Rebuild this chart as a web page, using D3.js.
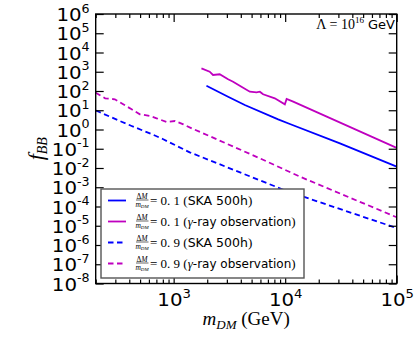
<!DOCTYPE html>
<html><head><meta charset="utf-8">
<script src="https://cdn.jsdelivr.net/npm/d3@7"></script>
<style>html,body{margin:0;padding:0;background:#fff;}svg{display:block;}</style>
</head><body><svg id="c" width="414" height="338"></svg>
<script>
// ---- data ----
const skaSolidM = [1968, 3076, 4345, 8650, 11015, 30974, 100000];
const skaSolidF = [188, 50.6, 18.75, 3.39, 1.93, 0.192, 0.0117];

const gamSolidM = [1775, 2104, 2254, 2588, 3076, 3412, 4055, 4819, 5534, 5929, 6339, 8072, 9931, 10304, 11803, 100000];
const gamSolidF = [1510, 1007, 678, 738, 406, 304, 167, 92, 85.5, 92, 67.5, 41.8, 20.4, 38.4, 27.8, 0.11];

const skaDashM = [200, 218, 277, 341, 420, 515, 634, 807, 1393, 9290, 14521, 100000];
const skaDashF = [9.7, 7.83, 4.31, 2.54, 1.52, 0.942, 0.583, 0.310, 0.0653, 8.1e-4, 3.24e-4, 7.6e-6];

const gamDashM = [200, 243, 297, 353, 420, 498, 612, 703, 865, 1028, 1222, 1452, 1786, 5929, 13552, 100000];
const gamDashF = [81, 41.8, 37.1, 20.4, 11.2, 6.17, 5.02, 3.82, 2.45, 2.77, 1.86, 1.15, 0.682, 0.0319, 0.00355, 2.75e-5];

const xMajorExp = [3, 4, 5];
const yExp = d3.range(-8, 7);
const legendLabels = [
  {ratio: "0.1", obs: "SKA"},
  {ratio: "0.1", obs: "gamma"},
  {ratio: "0.9", obs: "SKA"},
  {ratio: "0.9", obs: "gamma"}
];

// ---- layout ----
const svg = d3.select("#c");
const L = 95.7, R = 396.7, T = 14, B = 283.5;
const x = d3.scaleLog().domain([200, 1e5]).range([L, R]);
const y = d3.scaleLog().domain([1e-8, 1e6]).range([B, T]);
const BLUE = "#0000ff", MAG = "#bf00bf";
const series = [
  {m: skaSolidM, f: skaSolidF, c: BLUE, dash: null},
  {m: gamSolidM, f: gamSolidF, c: MAG, dash: null},
  {m: skaDashM, f: skaDashF, c: BLUE, dash: "5.5,3.5"},
  {m: gamDashM, f: gamDashF, c: MAG, dash: "5.5,3.5"}
];

const line = d3.line().x(d => x(d[0])).y(d => y(d[1]));
svg.append("clipPath").attr("id", "clp").append("rect")
  .attr("x", L).attr("y", T).attr("width", R - L).attr("height", B - T);
const plot = svg.append("g").attr("clip-path", "url(#clp)");
series.forEach(s => {
  plot.append("path").datum(s.m.map((m, i) => [m, s.f[i]]))
    .attr("d", line).attr("fill", "none").attr("stroke", s.c)
    .attr("stroke-width", 1.8).attr("stroke-dasharray", s.dash);
});

// ---- axes ----
const xMajor = xMajorExp.map(e => Math.pow(10, e));
const xMinor = [];
[2, 3, 4].forEach(e => { for (let k = 2; k <= 9; k++) { const v = k * Math.pow(10, e); if (v >= 200 && v <= 1e5) xMinor.push(v); } });
const yMajor = yExp.map(e => Math.pow(10, e));

function clean(g) { g.select(".domain").remove(); g.selectAll("line").attr("stroke", "#000").attr("stroke-width", 1.2); }

const gxB = svg.append("g").attr("transform", `translate(0,${B})`)
  .call(d3.axisBottom(x).tickValues(xMajor).tickSize(-8).tickPadding(0).tickFormat(""));
clean(gxB);
gxB.selectAll(".tick").each(function(d) {
  const e = Math.round(Math.log10(d));
  const t = d3.select(this).append("text").attr("text-anchor", "middle").attr("y", 22.5)
    .attr("fill", "#000").attr("font-family", "DejaVu Sans").attr("font-size", 18)
    .attr("transform", "scale(1.1,1)");
  t.append("tspan").text("10");
  t.append("tspan").attr("font-size", 12).attr("dy", -8).text(e);
});
svg.append("g").attr("transform", `translate(0,${B})`)
  .call(d3.axisBottom(x).tickValues(xMinor).tickSize(-4).tickFormat("")).call(clean);
svg.append("g").attr("transform", `translate(0,${T})`)
  .call(d3.axisTop(x).tickValues(xMajor).tickSize(-8).tickFormat("")).call(clean);
svg.append("g").attr("transform", `translate(0,${T})`)
  .call(d3.axisTop(x).tickValues(xMinor).tickSize(-4).tickFormat("")).call(clean);

const gyL = svg.append("g").attr("transform", `translate(${L},0)`)
  .call(d3.axisLeft(y).tickValues(yMajor).tickSize(-8).tickFormat(""));
clean(gyL);
gyL.selectAll(".tick").each(function(d) {
  const e = Math.round(Math.log10(d));
  const t = d3.select(this).append("text").attr("text-anchor", "end").attr("x", -5.5).attr("y", 6.5)
    .attr("fill", "#000").attr("font-family", "DejaVu Sans").attr("font-size", 18)
    .attr("transform", "scale(1.1,1)");
  t.append("tspan").text("10");
  t.append("tspan").attr("font-size", 11.5).attr("dy", -8.5).text(e < 0 ? "-" + (-e) : e);
});
svg.append("g").attr("transform", `translate(${R},0)`)
  .call(d3.axisRight(y).tickValues(yMajor).tickSize(-8).tickFormat("")).call(clean);

svg.append("rect").attr("x", L).attr("y", T).attr("width", R - L).attr("height", B - T)
  .attr("fill", "none").attr("stroke", "#000").attr("stroke-width", 1.4);

// ---- axis labels ----
const xl = svg.append("text").attr("x", (L + R) / 2).attr("y", 325).attr("text-anchor", "middle")
  .attr("font-family", "Liberation Serif").attr("font-size", 19).attr("fill", "#000");
xl.append("tspan").attr("font-style", "italic").text("m");
xl.append("tspan").attr("font-style", "italic").attr("font-size", 13).attr("dy", 4).text("DM");
xl.append("tspan").attr("dy", -4).text(" (GeV)");

const yl = svg.append("text").attr("transform", `translate(43,${(T + B) / 2}) rotate(-90)`)
  .attr("text-anchor", "middle").attr("font-family", "Liberation Serif").attr("font-style", "italic")
  .attr("font-size", 22).attr("fill", "#000");
yl.append("tspan").text("f");
yl.append("tspan").attr("font-size", 14).attr("dy", 4).text("BB");

// ---- Lambda annotation ----
const la = svg.append("text").attr("x", 395).attr("y", 29).attr("text-anchor", "end")
  .attr("font-size", 14).attr("fill", "#000").attr("font-family", "Liberation Serif");
la.append("tspan").text("Λ = 10");
la.append("tspan").attr("font-size", 9).attr("dy", -6).text("16");
la.append("tspan").attr("dy", 6).attr("font-family", "DejaVu Sans").attr("font-size", 13).text(" GeV");

// ---- legend ----
const lg = svg.append("g");
lg.append("rect").attr("x", 101).attr("y", 189).attr("width", 203).attr("height", 89)
  .attr("fill", "#fff").attr("stroke", "#555").attr("stroke-width", 1.4);
legendLabels.forEach((d, i) => {
  const s = series[i];
  const cy = 200.5 + i * 21;
  lg.append("line").attr("x1", 108).attr("x2", 126).attr("y1", cy).attr("y2", cy)
    .attr("stroke", s.c).attr("stroke-width", 1.8).attr("stroke-dasharray", s.dash);
  // fraction
  lg.append("text").attr("x", 142).attr("y", cy - 2).attr("text-anchor", "middle")
    .attr("font-family", "Liberation Serif").attr("font-size", 7.5).attr("fill", "#000")
    .call(t => { t.append("tspan").text("Δ"); t.append("tspan").attr("font-style", "italic").text("M"); });
  lg.append("line").attr("x1", 136).attr("x2", 148.5).attr("y1", cy - 0.5).attr("y2", cy - 0.5)
    .attr("stroke", "#000").attr("stroke-width", 0.6);
  lg.append("text").attr("x", 142).attr("y", cy + 6).attr("text-anchor", "middle")
    .attr("font-family", "Liberation Serif").attr("font-style", "italic").attr("font-size", 7.5).attr("fill", "#000")
    .call(t => { t.append("tspan").text("m"); t.append("tspan").attr("font-size", 5).attr("dy", 1).text("DM"); });
  const t = lg.append("text").attr("x", 150).attr("y", cy + 4.5).attr("font-size", 13)
    .attr("font-family", "Liberation Serif").attr("fill", "#000");
  t.append("tspan").text("= " + d.ratio.replace(".", ". ") + " (");
  if (d.obs === "SKA") {
    t.append("tspan").attr("font-family", "DejaVu Sans").attr("font-size", 12.5).text("SKA 500h");
  } else {
    t.append("tspan").attr("font-style", "italic").text("γ");
    t.append("tspan").attr("font-family", "DejaVu Sans").attr("font-size", 12).text("-ray observation");
  }
  t.append("tspan").text(")");
});
</script></body></html>
